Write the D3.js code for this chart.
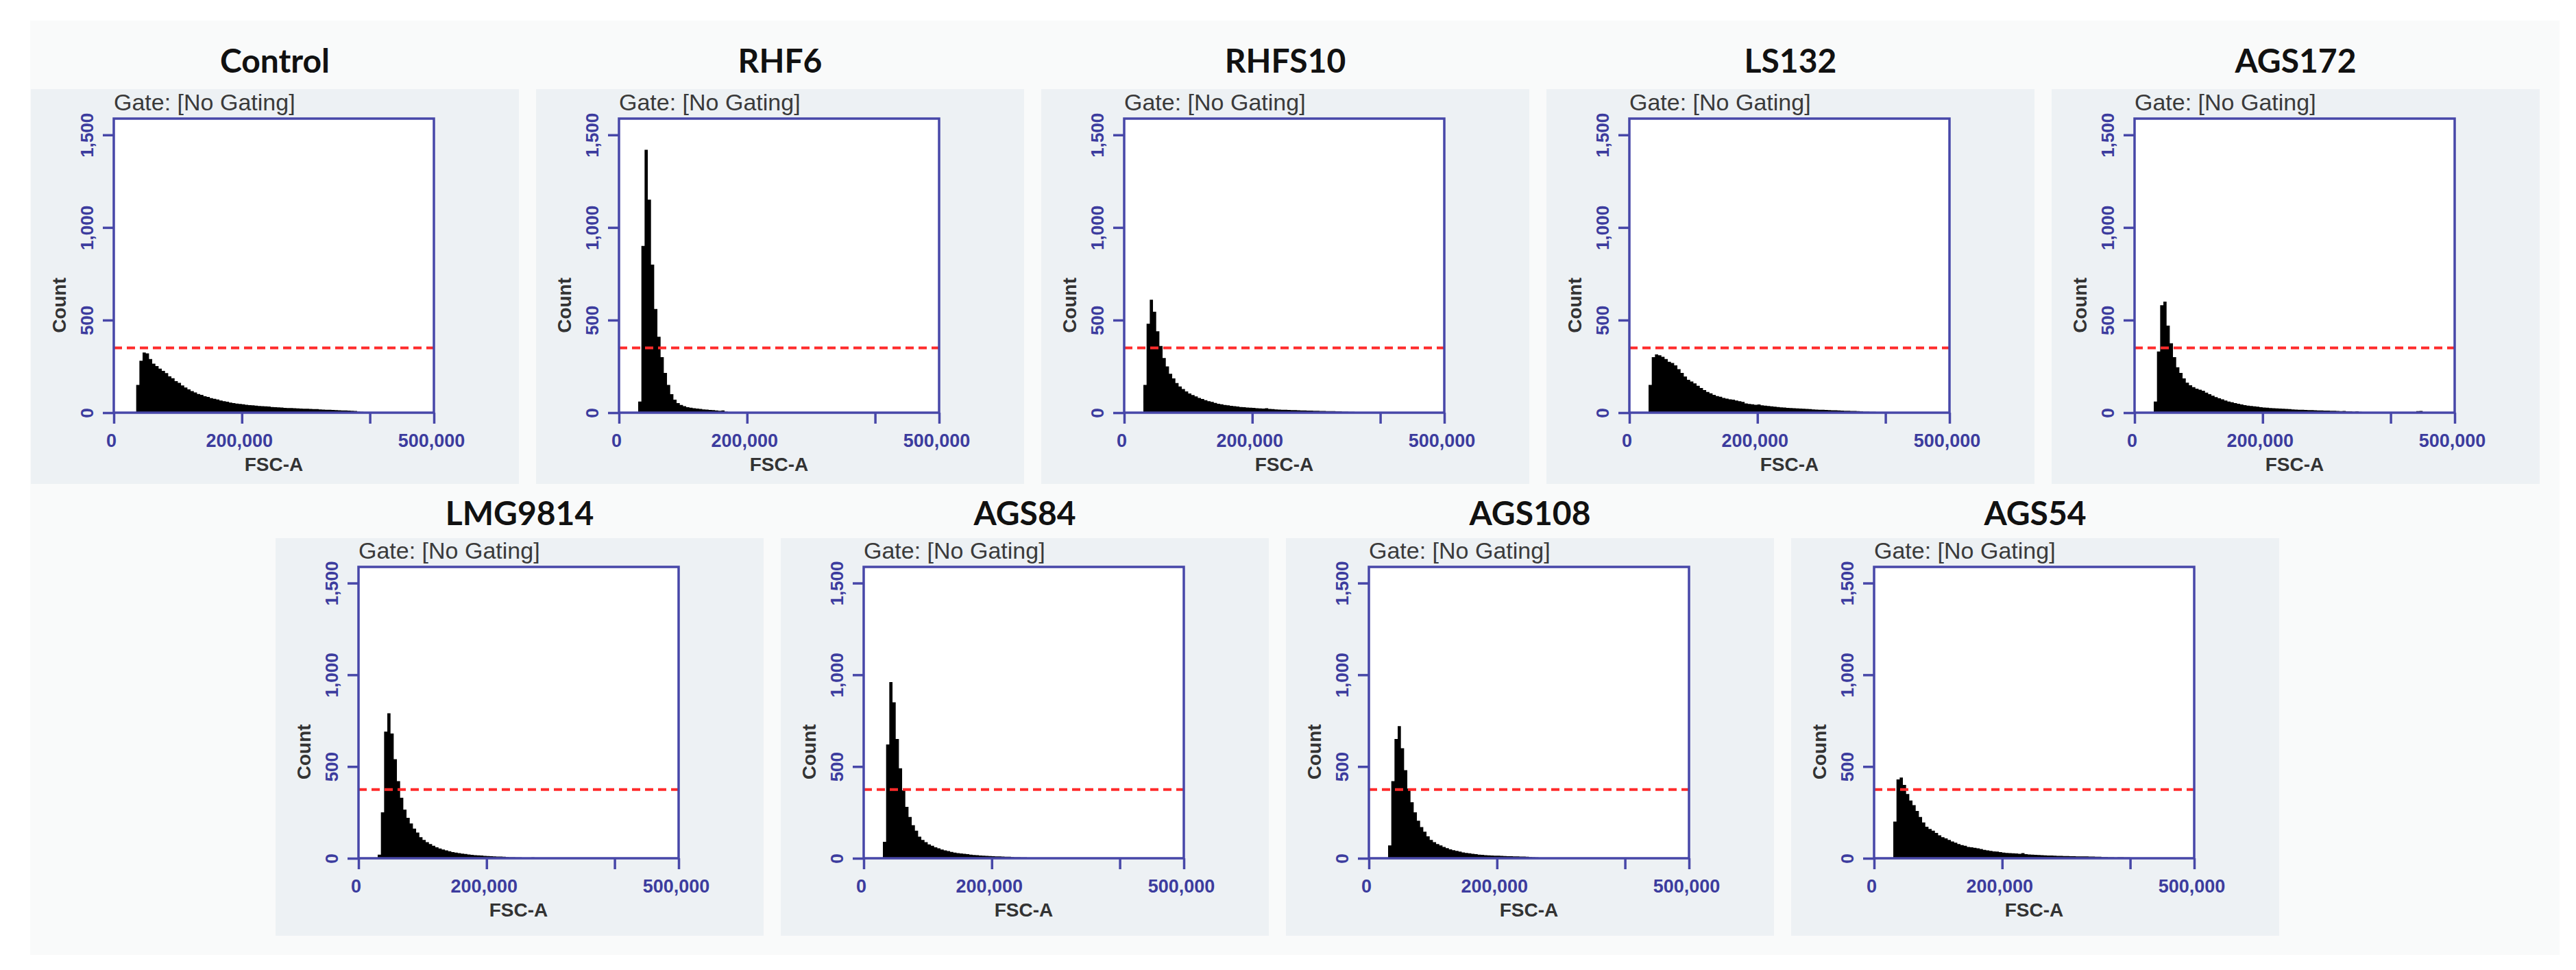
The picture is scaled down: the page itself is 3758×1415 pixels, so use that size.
<!DOCTYPE html>
<html>
<head>
<meta charset="utf-8">
<script src="https://cdn.jsdelivr.net/npm/d3@7"></script>
<style>
  body { margin: 0; background: #fff; }
  svg { display: block; }
</style>
</head>
<body>
<svg id="chart"></svg>
<script>
// sample names, top row then bottom row
const topRow = ["Control", "RHF6", "RHFS10", "LS132", "AGS172"];
const bottomRow = ["LMG9814", "AGS84", "AGS108", "AGS54"];

// histogram bins: FSC-A starting at 30,000 in steps of 5,000 (counts)
const binStart = 30000;
const binWidth = 5000;

const control = [
  0, 150, 280, 325, 320, 290, 265, 252, 238, 226,
  214, 196, 186, 170, 161, 147, 136, 126, 117, 109,
  101, 96, 89, 85, 79, 75, 71, 66, 62, 59,
  55, 52, 49, 47, 45, 43, 41, 40, 38, 36,
  35, 34, 33, 31, 30, 29, 28, 26, 25, 25,
  24, 23, 22, 21, 21, 20, 19, 19, 18, 17,
  16, 16, 15, 14, 13, 12, 12, 11, 10, 9,
  6, 5, 4, 4, 3, 3, 2, 2, 3, 2,
  0, 2, 0, 2, 0, 0, 2, 0, 2, 0,
  2, 0, 2, 0
];
const rhf6 = [
  60, 900, 1420, 1150, 800, 560, 410, 300, 215, 150,
  100, 70, 52, 42, 35, 30, 27, 24, 22, 20,
  18, 17, 15, 14, 12, 10, 12, 6
];
const rhfs10 = [
  150, 480, 610, 545, 440, 360, 295, 250, 210, 185,
  160, 142, 128, 115, 104, 95, 88, 80, 74, 68,
  62, 58, 53, 48, 45, 42, 40, 37, 35, 33,
  31, 30, 28, 27, 26, 24, 23, 22, 24, 20,
  19, 18, 17, 16, 16, 15, 14, 14, 13, 12,
  12, 11, 11, 10, 10, 9, 9, 8, 8, 8,
  7, 7, 6, 6, 5, 5, 4, 4, 3, 3,
  3, 2, 2, 0, 2, 1, 0, 0, 0, 0,
  0, 0, 0, 0, 0, 0, 0, 2
];
const ls132 = [
  150, 300, 315, 310, 302, 290, 275, 268, 255, 235,
  215, 195, 178, 168, 158, 145, 133, 122, 112, 105,
  96, 90, 86, 80, 76, 72, 70, 66, 62, 58,
  50, 47, 45, 43, 44, 40, 38, 36, 34, 32,
  31, 29, 28, 26, 25, 24, 23, 22, 21, 20,
  19, 18, 17, 16, 16, 15, 14, 13, 13, 12,
  11, 10, 10, 9, 9, 8, 7, 6, 6, 5,
  5, 4, 4, 3, 4, 3, 2, 3, 2, 1,
  2, 0, 1
];
const ags172 = [
  60, 330, 580, 600, 470, 375, 300, 245, 215, 185,
  162, 148, 138, 130, 124, 118, 108, 100, 92, 84,
  78, 72, 66, 60, 56, 52, 48, 44, 41, 38,
  36, 34, 32, 30, 28, 27, 25, 24, 23, 22,
  21, 20, 19, 18, 17, 16, 16, 15, 14, 14,
  13, 12, 12, 11, 11, 10, 10, 9, 8, 9,
  7, 7, 6, 7, 5, 4, 3, 2, 3, 1,
  2, 0, 2, 1, 0, 1, 0, 0, 1, 0,
  0, 0, 8, 9
];
const lmg9814 = [
  20, 250, 690, 790, 680, 540, 420, 330, 265, 220,
  190, 162, 140, 115, 100, 88, 78, 68, 60, 53,
  48, 43, 38, 34, 31, 28, 25, 23, 21, 19,
  17, 16, 15, 13, 12, 11, 10, 9, 9, 8,
  7, 6, 6, 5, 5, 4, 4, 3, 5, 3,
  2, 3, 2, 1, 2, 1, 0, 0
];
const ags84 = [
  90, 620, 960, 850, 650, 490, 370, 280, 225, 180,
  150, 118, 100, 88, 76, 68, 60, 54, 48, 43,
  39, 35, 31, 28, 26, 24, 22, 20, 18, 17,
  15, 14, 13, 12, 11, 10, 10, 9, 8, 8,
  7, 6, 6, 5, 5, 4, 4, 3, 4, 3,
  2, 3, 2, 2, 1, 2, 1, 1, 0, 1,
  0, 0, 1, 0, 0
];
const ags108 = [
  70, 420, 650, 720, 600, 480, 380, 305, 250, 205,
  170, 145, 120, 100, 88, 78, 70, 62, 55, 49,
  44, 40, 36, 32, 29, 27, 24, 22, 20, 19,
  17, 16, 15, 14, 14, 13, 12, 11, 11, 10,
  10, 9, 9, 8, 7, 6, 5, 3, 3, 2,
  2, 0, 1, 0, 0, 0, 0, 2, 2, 0,
  2, 0, 2, 0, 0, 0
];
const ags54 = [
  200, 430, 440, 400, 350, 315, 290, 258, 225, 195,
  172, 160, 150, 138, 125, 115, 108, 100, 92, 85,
  78, 72, 68, 62, 60, 57, 54, 50, 46, 43,
  40, 37, 36, 34, 31, 29, 28, 27, 26, 24,
  28, 22, 21, 20, 19, 18, 17, 16, 15, 15,
  14, 13, 13, 12, 12, 11, 11, 10, 10, 10,
  10, 9, 9, 8, 8, 7, 7, 6, 6, 5,
  6, 6, 5, 5, 4, 2, 0, 1, 0, 0,
  3
];

const countsBySample = {
  Control: control, RHF6: rhf6, RHFS10: rhfs10, LS132: ls132, AGS172: ags172,
  LMG9814: lmg9814, AGS84: ags84, AGS108: ags108, AGS54: ags54
};

// red dashed reference line, one level per row
const thresholds = [350, 375];

const yMax = 1588;
const yTicks = [0, 500, 1000, 1500];
const yTickLabels = ["0", "500", "1,000", "1,500"];
const xMax = 500000;
const xTicks = [0, 200000, 400000, 500000];
const xTickLabels = ["0", "200,000", "", "500,000"];

// ---- layout ----
const W = 3758, H = 1415;
const blue = "#4747a8";
const labelBlue = "#3c3c9e";
const axisFont = "'Liberation Sans', Arial, sans-serif";

const svg = d3.select("#chart").attr("width", W).attr("height", H);

// faint sheet behind the panels
svg.append("rect")
  .attr("x", 44).attr("y", 30)
  .attr("width", 3690).attr("height", 1363)
  .attr("fill", "#f9fafa");

const rows = [
  { names: topRow, x0: 45, bgTop: 130, bgH: 576, titleY: 106, frameTop: 173, frameH: 429, thr: thresholds[0] },
  { names: bottomRow, x0: 402, bgTop: 785, bgH: 580, titleY: 766, frameTop: 827, frameH: 425, thr: thresholds[1] }
];
const step = 737;
const panelW = 712;
const frameL = 121;
const frameW = 467;

rows.forEach((row) => {
  row.names.forEach((name, i) => {
    const g = svg.append("g").attr("transform", `translate(${row.x0 + i * step},0)`);

    // panel background
    g.append("rect")
      .attr("x", 0).attr("y", row.bgTop)
      .attr("width", panelW).attr("height", row.bgH)
      .attr("fill", "#edf1f4");

    // sample title
    g.append("text")
      .attr("x", panelW / 2).attr("y", row.titleY)
      .attr("text-anchor", "middle")
      .style("font-family", "Lato, 'Open Sans', sans-serif")
      .style("font-weight", 700)
      .style("font-size", "48px")
      .style("fill", "#111")
      .text(name);

    const plot = g.append("g").attr("transform", `translate(${frameL},${row.frameTop})`);
    const fh = row.frameH;

    const x = d3.scaleLinear().domain([0, xMax]).range([0, frameW]);
    const y = d3.scaleLinear().domain([0, yMax]).range([fh, 0]);

    plot.append("rect")
      .attr("width", frameW).attr("height", fh)
      .attr("fill", "#fff");

    plot.append("text")
      .attr("x", 0).attr("y", -12)
      .style("font-family", axisFont)
      .style("font-size", "34px")
      .style("fill", "#3a3a3a")
      .text("Gate: [No Gating]");

    // histogram as a step area
    const values = countsBySample[name];
    const bins = values.map((c, k) => ({ x0: binStart + k * binWidth, c: c }));
    bins.push({ x0: binStart + values.length * binWidth, c: 0 });

    const area = d3.area()
      .curve(d3.curveStepAfter)
      .x((d) => x(d.x0))
      .y0(y(0))
      .y1((d) => y(d.c));

    plot.append("path")
      .datum(bins)
      .attr("d", area)
      .attr("fill", "#000");

    // threshold line
    plot.append("line")
      .attr("x1", x(0)).attr("x2", x(xMax))
      .attr("y1", y(row.thr)).attr("y2", y(row.thr))
      .attr("stroke", "#ff2b2b")
      .attr("stroke-width", 4)
      .attr("stroke-dasharray", "12,7");

    // frame
    plot.append("rect")
      .attr("width", frameW).attr("height", fh)
      .attr("fill", "none")
      .attr("stroke", blue)
      .attr("stroke-width", 3.5);

    // y axis
    const yAxis = plot.append("g")
      .call(d3.axisLeft(y).tickValues(yTicks).tickSize(16).tickSizeOuter(0)
        .tickFormat((d, k) => yTickLabels[k]));
    yAxis.select(".domain").remove();
    yAxis.selectAll("line").attr("stroke", blue).attr("stroke-width", 3.5);
    yAxis.selectAll("text")
      .attr("transform", "rotate(-90)")
      .attr("x", 0).attr("y", -39).attr("dy", "0.35em")
      .attr("text-anchor", "middle")
      .style("font-family", axisFont)
      .style("font-weight", 700)
      .style("font-size", "26px")
      .style("fill", labelBlue);

    // x axis
    const xAxis = plot.append("g")
      .attr("transform", `translate(0,${fh})`)
      .call(d3.axisBottom(x).tickValues(xTicks).tickSize(16).tickSizeOuter(0)
        .tickFormat((d, k) => xTickLabels[k]));
    xAxis.select(".domain").remove();
    xAxis.selectAll("line").attr("stroke", blue).attr("stroke-width", 3.5);
    xAxis.selectAll("text")
      .attr("y", 41).attr("dy", "0.35em")
      .attr("x", -4)
      .style("font-family", axisFont)
      .style("font-weight", 700)
      .style("font-size", "27px")
      .style("fill", labelBlue);

    // axis titles
    plot.append("text")
      .attr("transform", `translate(-80,${fh * 0.635}) rotate(-90)`)
      .attr("text-anchor", "middle")
      .attr("dy", "0.35em")
      .style("font-family", axisFont)
      .style("font-weight", 700)
      .style("font-size", "28px")
      .style("fill", "#333")
      .text("Count");

    plot.append("text")
      .attr("x", frameW / 2).attr("y", fh + 75)
      .attr("text-anchor", "middle")
      .attr("dy", "0.35em")
      .style("font-family", axisFont)
      .style("font-weight", 700)
      .style("font-size", "28px")
      .style("fill", "#333")
      .text("FSC-A");
  });
});
</script>
</body>
</html>
